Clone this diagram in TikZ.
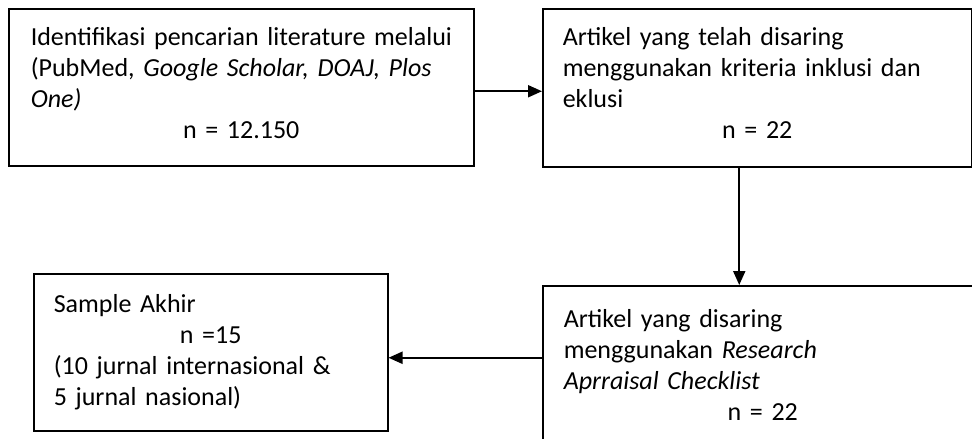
\documentclass[tikz,border=0pt]{standalone}
\usepackage{fontspec}
\setmainfont{Carlito}
\usepackage{tikz}
\usetikzlibrary{positioning}
\usetikzlibrary{arrows.meta}
\tikzset{flowbox/.style={draw, line width=1.5pt, anchor=north west, align=left, inner ysep=0pt,
  font=\fontsize{26}{31}\selectfont}}
\tikzset{flowarrow/.style={line width=2pt, -{Triangle[length=14pt,width=12pt]}}}
\newcommand{\midline}[1]{\makebox[\hsize]{#1}}
\newcommand{\lift}{\rule[-9pt]{0pt}{9pt}}

\begin{document}
\begin{tikzpicture}[x=1pt,y=-1pt]
\useasboundingbox (0,0) rectangle (972,439);
\clip (0,0) rectangle (972,439);
\node[flowbox, minimum width=465pt, minimum height=157pt, inner xsep=22pt, text width=421pt] (search) at (8,8)
 {\mbox{Identifikasi pencarian literature melalui}\\
  (PubMed, \textit{Google Scholar, DOAJ, Plos}\\
  \textit{One)}\\
  \midline{n = 12.150}\lift};
\node[flowbox, minimum width=429pt, minimum height=158pt, inner xsep=20pt, text width=389pt] (screen) at (542,8)
 {Artikel yang telah disaring\\
  menggunakan kriteria inklusi dan\\
  eklusi\\
  \midline{n = 22}\lift};
\node[flowbox, minimum width=440pt, minimum height=158pt, inner xsep=21pt, text width=398pt] (appraise) at (542,285)
 {Artikel yang disaring\\
  menggunakan \textit{Research}\\
  \textit{Aprraisal Checklist}\\
  \midline{n = 22}};
\node[flowbox, minimum width=354pt, minimum height=157pt, inner xsep=20pt, text width=314pt] (final) at (33,273)
 {Sample Akhir\\
  \midline{n =15}\\
  (10 jurnal internasional \&\\
  5 jurnal nasional)};
% connectors
\draw[flowarrow] ([yshift=-4pt]search.east) -- ([yshift=-4pt]search.east -| screen.west);
\draw[flowarrow] ([xshift=-18pt]screen.south) -- ([xshift=-18pt]screen.south |- appraise.north);
\draw[flowarrow] ([yshift=7pt]appraise.west) -- ([yshift=7pt]appraise.west -| final.east);
\end{tikzpicture}
\end{document}
